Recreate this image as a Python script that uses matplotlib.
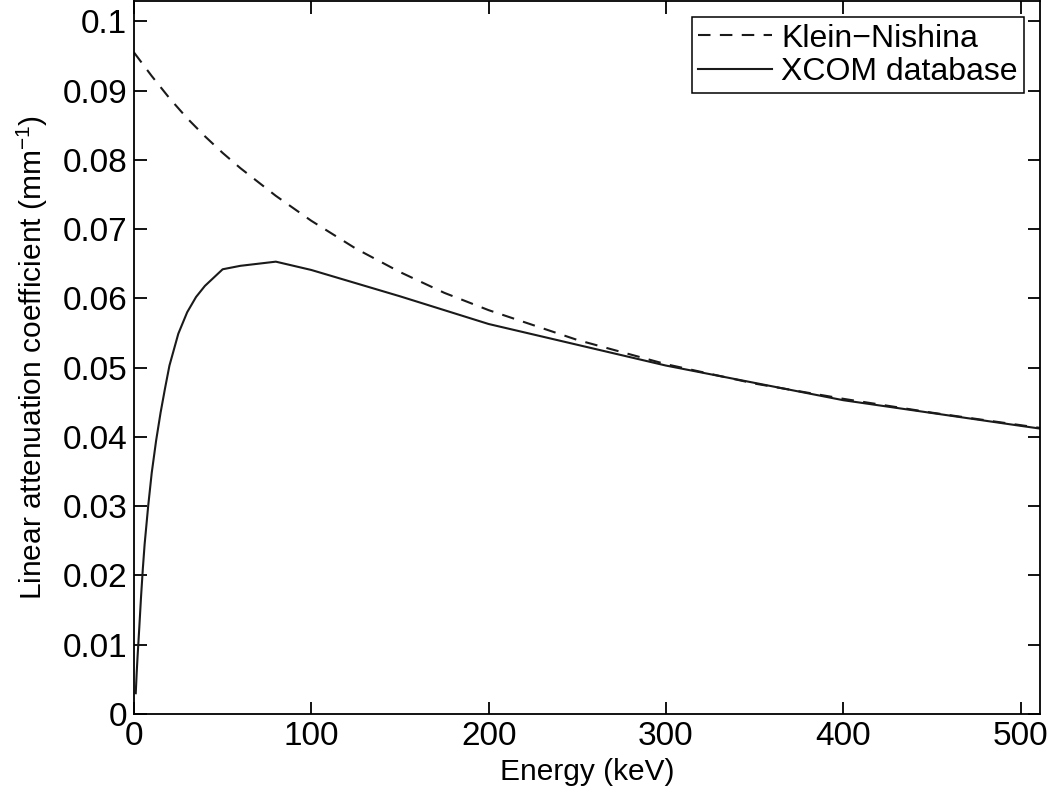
import numpy as np
import matplotlib
matplotlib.use('Agg')
import matplotlib.pyplot as plt
from matplotlib.ticker import FuncFormatter

plt.rcParams['font.family'] = ['Liberation Sans', 'DejaVu Sans']
plt.rcParams['mathtext.fontset'] = 'custom'
plt.rcParams['mathtext.rm'] = 'Liberation Sans'
plt.rcParams['mathtext.it'] = 'Liberation Sans:italic'

# Klein-Nishina curve (keV, 1/mm)
kn_energy = [0, 10, 20, 30, 40, 50, 60, 80, 100, 125, 150, 175, 200, 250, 300, 350, 400, 450, 511]
kn_mu = [0.0955, 0.0921, 0.0889, 0.0860, 0.0834, 0.0810, 0.0788, 0.0748, 0.0712, 0.0672,
         0.0638, 0.0608, 0.0583, 0.0540, 0.0505, 0.0477, 0.0455, 0.0435, 0.0413]

# XCOM database points (keV, 1/mm)
xcom_energy = [1, 1.5, 2, 3, 4, 5, 6, 8, 10, 12.5, 15, 17.5, 20, 25, 30, 35, 40, 50, 60, 80, 100,
               150, 200, 300, 400, 500, 511]
xcom_mu = [0.003, 0.0058, 0.0082, 0.0125, 0.017, 0.021, 0.0245, 0.030, 0.0348, 0.0395, 0.0435,
           0.0470, 0.0503, 0.0549, 0.0580, 0.0602, 0.0618, 0.0642, 0.0647, 0.0653, 0.0641,
           0.0603, 0.0563, 0.0503, 0.0453, 0.0416, 0.0412]

fig = plt.figure(figsize=(10.5, 8), dpi=100)
ax = fig.add_axes([0.1276, 0.1075, 0.863, 0.891])

ax.plot(kn_energy, kn_mu, color='#1a1a1a', lw=1.5, dashes=(6, 4.5), label='Klein\u2212Nishina')
ax.plot(xcom_energy, xcom_mu, color='#1a1a1a', lw=1.5, label='XCOM database')

ax.set_xlim(0, 511)
ax.set_ylim(0, 0.1029)
ax.set_xticks([0, 100, 200, 300, 400, 500])
ax.set_yticks(np.arange(0, 0.1001, 0.01))
ax.yaxis.set_major_formatter(FuncFormatter(lambda v, p: '%g' % round(v, 3)))

ax.tick_params(direction='in', length=9, width=1.3, labelsize=24, top=True, right=True, pad=5)
for s in ax.spines.values():
    s.set_linewidth(1.3)

ax.set_xlabel('Energy (keV)', fontsize=21.5, labelpad=4)
ax.set_ylabel('Linear attenuation coefficient (mm$^{-1}$)', fontsize=21.5, labelpad=9)

leg = ax.legend(loc='upper right', fontsize=23, fancybox=False, framealpha=1,
                edgecolor='black', handlelength=2.3, handletextpad=0.3,
                borderpad=0.2, labelspacing=0.1, borderaxespad=0.5)
leg.get_frame().set_linewidth(1.1)

fig.savefig('out.png', dpi=100)
